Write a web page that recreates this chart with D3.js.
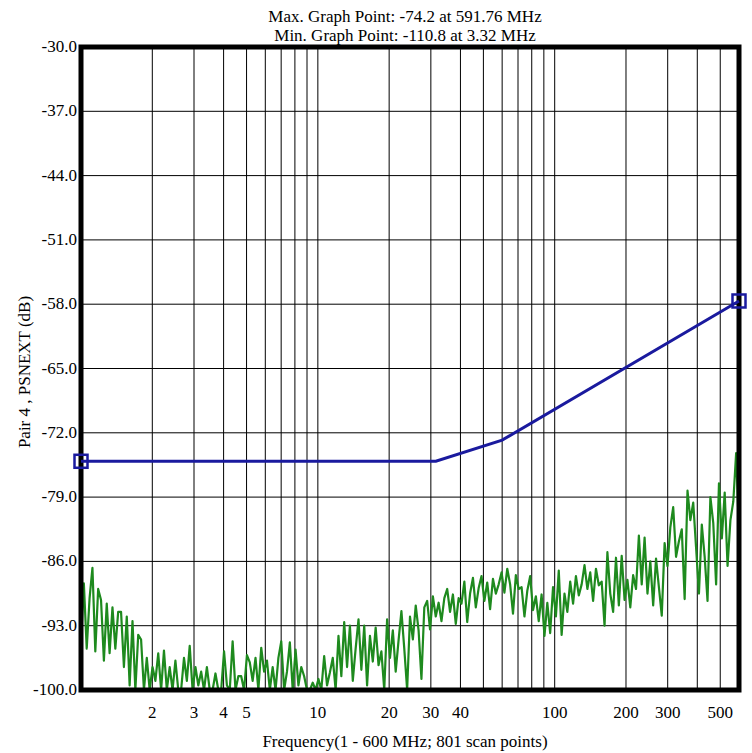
<!DOCTYPE html>
<html>
<head>
<meta charset="utf-8">
<script src="https://cdn.jsdelivr.net/npm/d3@7"></script>
<style>
  body { margin: 0; background: #fff; }
  svg text { font-family: "Liberation Serif", "Times New Roman", serif; fill: #000; }
</style>
</head>
<body>
<div id="chart"></div>
<script>
const titleLines = ["Max. Graph Point: -74.2 at 591.76 MHz", "Min. Graph Point: -110.8 at 3.32 MHz"];
const xTitle = "Frequency(1 - 600 MHz; 801 scan points)";
const yTitle = "Pair 4 , PSNEXT (dB)";

const yTicks = [-30, -37, -44, -51, -58, -65, -72, -79, -86, -93, -100];
const xLabels = [2, 3, 4, 5, 10, 20, 30, 40, 100, 200, 300, 500];
const xGrid = [2, 3, 4, 5, 6, 7, 8, 9, 10, 20, 30, 40, 50, 60, 70, 80, 90, 100, 200, 300, 400, 500];

// limit line (blue)
const limitFreq = [1, 31.5, 60, 600];
const limitDb = [-75.1, -75.1, -72.8, -57.65];

const measuredDb = [
  -94.6, -88.4, -95.5, -90.0, -86.7, -95.8, -89.0,
  -90.2, -96.8, -90.6, -96.0, -91.0, -95.5, -91.5,
  -91.5, -97.5, -92.0, -99.5, -92.5, -100.5, -94.0,
  -94.5, -101, -96.5, -102, -97.5, -99, -96.0,
  -101, -95.7, -103, -97.5, -104, -96.8, -100.5,
  -103, -96.5, -99, -95.2, -101, -97.5, -99.5,
  -98.0, -110.8, -97.5, -100.5, -104, -98.2, -101,
  -102, -95.8, -99.5, -103, -94.7, -100.5, -98.5,
  -98.5, -104, -96.2, -97.0, -99, -96.5, -101,
  -95.4, -98, -96.8, -102, -97.5, -103, -96.5,
  -94.7, -101, -98, -94.8, -103, -95.6, -99.5,
  -97.5, -98.5, -102, -100, -99.2, -104, -98.8,
  -101, -96.3, -99.5, -98.1, -96.5, -102, -94.1,
  -98.5, -92.6, -97.5, -93.0, -99, -95.5, -92.3,
  -97.8, -93.0, -99.5, -94.1, -96.9, -93.2, -97.3,
  -95.8, -100.5, -92.3, -96.5, -93.5, -98, -94.6,
  -91.4, -95.5, -100.5, -92.0, -94.5, -90.8, -93.5,
  -98.8, -91.0, -90.3, -93.4, -89.8, -92.0, -90.5,
  -92.5, -90.0, -89.0, -91.5, -89.6, -92.8, -90.0,
  -90.6, -88.2, -92.6, -89.5, -87.8, -91.0, -88.9,
  -87.6, -90.3, -88.3, -91.2, -87.9, -89.5, -88.5,
  -87.2, -89.4, -86.8, -88.5, -91.7, -87.5, -89.0,
  -88.8, -92.0, -89.2, -87.6, -91.3, -89.8, -92.5,
  -89.6, -94.1, -90.5, -93.8, -88.8, -92.0, -87.0,
  -94.0, -89.5, -91.5, -88.2, -90.6, -87.6, -89.7,
  -88.5, -86.4, -89.0, -87.2, -90.3, -86.8, -88.6,
  -88.2, -93.0, -85.0, -89.5, -91.5, -85.6, -90.8,
  -85.4, -90.2, -88.0, -91.0, -87.5, -89.0, -83.2,
  -88.5, -83.4, -89.5, -86.0, -90.8, -85.7, -88.8,
  -91.9, -84.0, -86.5, -82.3, -80.1, -85.5, -83.8,
  -82.5, -90.1, -78.3, -81.5, -79.6, -84.5, -89.5,
  -82.0, -85.5, -90.3, -79.0, -81.8, -88.5, -77.5,
  -83.5, -78.5, -86.5, -81.5, -79.5, -74.2, -82.9
];

const width = 752, height = 753;
const plotLeft = 81, plotRight = 739, plotTop = 47, plotBottom = 690;

const svg = d3.select("#chart").append("svg")
  .attr("width", width)
  .attr("height", height);

const x = d3.scaleLog().domain([1, 600]).range([plotLeft, plotRight]);
const y = d3.scaleLinear().domain([-100, -30]).range([plotBottom, plotTop]).clamp(true);

// scan frequencies for the measured trace
const n = measuredDb.length;
const measured = measuredDb.map((v, i) => ({f: Math.pow(600, i / (n - 1)), v: v}));
const limit = limitFreq.map((f, i) => ({f: f, v: limitDb[i]}));

// grid
svg.append("g").selectAll("line").data(xGrid).enter().append("line")
  .attr("x1", d => x(d)).attr("x2", d => x(d))
  .attr("y1", plotTop).attr("y2", plotBottom)
  .attr("stroke", "#000").attr("stroke-width", 1);
svg.append("g").selectAll("line").data(yTicks.slice(1, -1)).enter().append("line")
  .attr("x1", plotLeft).attr("x2", plotRight)
  .attr("y1", d => y(d)).attr("y2", d => y(d))
  .attr("stroke", "#000").attr("stroke-width", 1);

const line = d3.line().x(d => x(d.f)).y(d => y(d.v));

svg.append("path").datum(measured)
  .attr("d", line)
  .attr("fill", "none")
  .attr("stroke", "#1e8a1e")
  .attr("stroke-width", 2.2)
  .attr("stroke-linejoin", "round");

// frame
svg.append("rect")
  .attr("x", plotLeft).attr("y", plotTop)
  .attr("width", plotRight - plotLeft).attr("height", plotBottom - plotTop)
  .attr("fill", "none").attr("stroke", "#000").attr("stroke-width", 5);

svg.append("path").datum(limit)
  .attr("d", line)
  .attr("fill", "none")
  .attr("stroke", "#1a1a9e")
  .attr("stroke-width", 3);

// end markers
svg.append("g").selectAll("rect").data([limit[0], limit[limit.length - 1]]).enter().append("rect")
  .attr("x", d => x(d.f) - 6.5).attr("y", d => y(d.v) - 6.5)
  .attr("width", 13).attr("height", 13)
  .attr("fill", "none").attr("stroke", "#1a1a9e").attr("stroke-width", 2.5);

// y tick labels
svg.append("g").selectAll("text").data(yTicks).enter().append("text")
  .attr("x", plotLeft - 4).attr("y", d => y(d) + 5)
  .attr("text-anchor", "end")
  .style("font-size", "17px")
  .text(d => d.toFixed(1));

// x tick labels
svg.append("g").selectAll("text").data(xLabels).enter().append("text")
  .attr("x", d => x(d)).attr("y", 718)
  .attr("text-anchor", "middle")
  .style("font-size", "17px")
  .text(d => d);

svg.selectAll(".title").data(titleLines).enter().append("text")
  .attr("class", "title")
  .attr("x", 405).attr("y", (d, i) => 22 + i * 19)
  .attr("text-anchor", "middle")
  .style("font-size", "17px")
  .text(d => d);

svg.append("text")
  .attr("x", 405).attr("y", 747)
  .attr("text-anchor", "middle")
  .style("font-size", "17px")
  .text(xTitle);

svg.append("text")
  .attr("transform", `translate(30, 372) rotate(-90)`)
  .attr("text-anchor", "middle")
  .style("font-size", "17px")
  .text(yTitle);
</script>
</body>
</html>
